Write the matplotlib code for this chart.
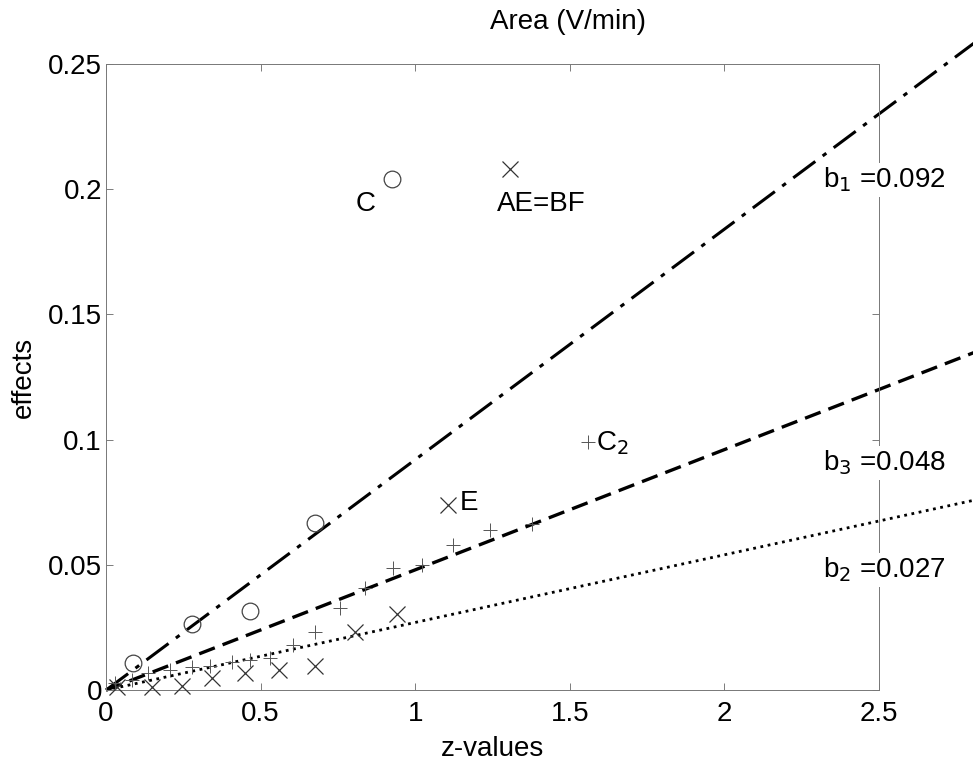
import numpy as np
import matplotlib
matplotlib.use("Agg")
import matplotlib.pyplot as plt

plt.rcParams['font.family'] = ['Liberation Sans', 'DejaVu Sans']

# circles (o)
xo = [0.087, 0.278, 0.466, 0.676, 0.924]
yo = [0.0108, 0.0264, 0.0315, 0.0667, 0.204]
# crosses (x)
xx = [0.036, 0.149, 0.246, 0.343, 0.450, 0.560, 0.676, 0.805, 0.940, 1.107, 1.307]
yx = [0.0012, 0.0012, 0.0016, 0.005, 0.0068, 0.008, 0.0095, 0.023, 0.0303, 0.0738, 0.208]
# plus (+)
xp = [0.03, 0.084, 0.136, 0.207, 0.278, 0.336, 0.408, 0.466, 0.530, 0.605, 0.676,
      0.757, 0.838, 0.929, 1.021, 1.123, 1.242, 1.378, 1.559]
yp = [0.003, 0.004, 0.0068, 0.008, 0.0092, 0.0096, 0.0112, 0.012, 0.0128, 0.018, 0.023,
      0.0327, 0.0407, 0.0487, 0.050, 0.058, 0.064, 0.0663, 0.099]

slopes = [0.092, 0.048, 0.027]
slope_names = ['b$_1$ =0.092', 'b$_3$ =0.048', 'b$_2$ =0.027']
slope_styles = [(0, (9, 3, 1.5, 3)), (0, (5, 2.5)), ':']
slope_widths = [2.2, 2.4, 2.0]
label_y = [0.2037, 0.0907, 0.048]

fs = 20

fig = plt.figure(figsize=(9.73, 7.6), dpi=100)
ax = fig.add_axes([0.109, 0.092, 0.7944, 0.824])

xl = np.array([0.0, 2.9])
for b, ls, lw in zip(slopes, slope_styles, slope_widths):
    ax.plot(xl, b * xl, color='black', linestyle=ls, linewidth=lw, clip_on=False, zorder=2)

ax.plot(xo, yo, 'o', mfc='none', mec='#444444', ms=12, mew=0.9, clip_on=False, zorder=3)
ax.plot(xx, yx, 'x', color='#333333', ms=11, mew=0.9, clip_on=False, zorder=3)
ax.plot(xp, yp, '+', color='#555555', ms=10, mew=0.7, clip_on=False, zorder=3)

ax.text(0.84, 0.194, 'C', fontsize=fs, ha='center', va='center')
ax.text(1.265, 0.194, 'AE=BF', fontsize=fs, ha='left', va='center')
ax.text(1.145, 0.0745, 'E', fontsize=fs, ha='left', va='center')
ax.text(1.585, 0.0985, 'C$_2$', fontsize=fs, ha='left', va='center')
for s, yy in zip(slope_names, label_y):
    ax.text(2.32, yy, s, fontsize=fs, ha='left', va='center', clip_on=False,
            bbox=dict(facecolor='white', edgecolor='none', pad=2), zorder=5)

ax.set_xlim(0, 2.5)
ax.set_ylim(0, 0.25)
ax.set_xticks([0, 0.5, 1, 1.5, 2, 2.5])
ax.set_xticklabels(['0', '0.5', '1', '1.5', '2', '2.5'])
ax.set_yticks([0, 0.05, 0.1, 0.15, 0.2, 0.25])
ax.set_yticklabels(['0', '0.05', '0.1', '0.15', '0.2', '0.25'])
ax.tick_params(direction='in', length=5, width=0.6, color='#666666', labelsize=fs,
               top=True, right=True, pad=3)
ax.tick_params(axis='x', pad=8)
for sp in ax.spines.values():
    sp.set_linewidth(0.7)
    sp.set_color('#777777')

ax.set_xlabel('z-values', fontsize=fs, labelpad=6)
ax.set_ylabel('effects', fontsize=fs, labelpad=8)
fig.text(568 / 973, 1 - 22 / 760, 'Area (V/min)', fontsize=fs, ha='center', va='center')

fig.savefig('out.png', dpi=100)
